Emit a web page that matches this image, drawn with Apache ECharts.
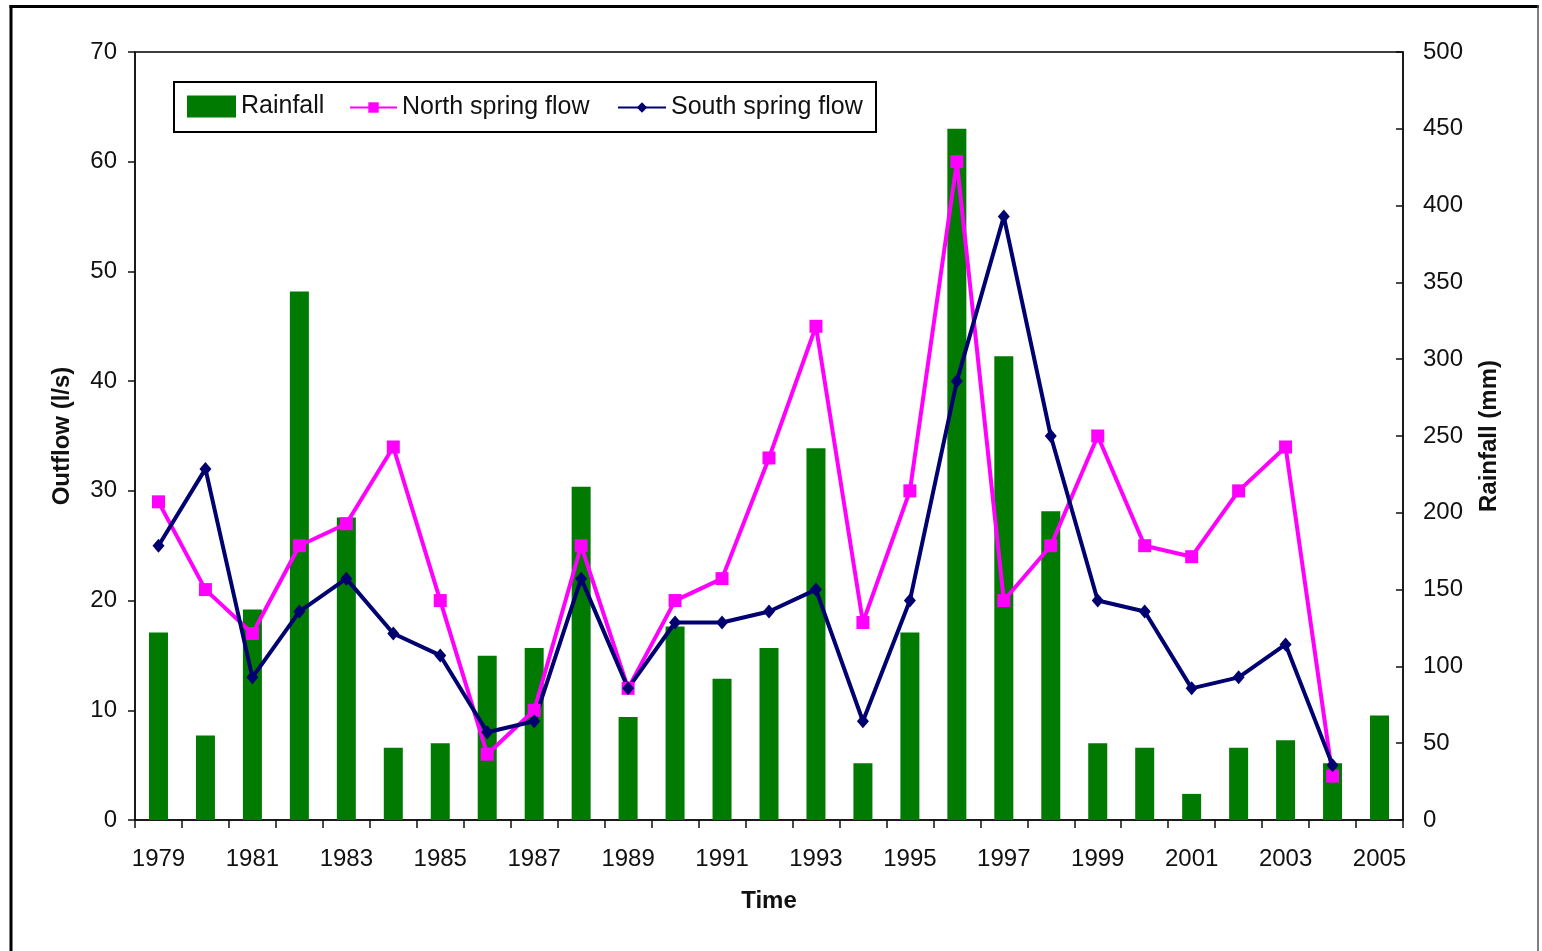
<!DOCTYPE html>
<html>
<head>
<meta charset="utf-8">
<script src="https://cdn.jsdelivr.net/npm/echarts@6/dist/echarts.min.js"></script>
<style>
html,body{margin:0;padding:0;background:#fff;}
#chart{width:1542px;height:951px;}
</style>
</head>
<body>
<div id="chart"></div>
<script>
const years = ['1979','1980','1981','1982','1983','1984','1985','1986','1987','1988','1989','1990','1991','1992','1993','1994','1995','1996','1997','1998','1999','2000','2001','2002','2003','2004','2005'];
const rainfall = [122, 55, 137, 344, 197, 47, 50, 107, 112, 217, 67, 126, 92, 112, 242, 37, 122, 450, 302, 201, 50, 47, 17, 47, 52, 37, 68];
const northFlow = [29, 21, 17, 25, 27, 34, 20, 6, 10, 25, 12, 20, 22, 33, 45, 18, 30, 60, 20, 25, 35, 25, 24, 30, 34, 4, null];
const southFlow = [25, 32, 13, 19, 22, 17, 15, 8, 9, 22, 12, 18, 18, 19, 21, 9, 20, 40, 55, 35, 20, 19, 12, 13, 16, 5, null];
const outflowTicks = [0, 10, 20, 30, 40, 50, 60, 70];
const rainfallTicks = [0, 50, 100, 150, 200, 250, 300, 350, 400, 450, 500];

const FONT = 'Liberation Sans, Arial, sans-serif';
const chart = echarts.init(document.getElementById('chart'), null, {renderer: 'canvas'});

const legendText = {fontFamily: FONT, fontSize: 25, color: '#111'};

chart.setOption({
  backgroundColor: '#fff',
  animation: false,
  graphic: [
    {type: 'line', shape: {x1: 9.5, y1: 6.5, x2: 1539, y2: 6.5}, style: {stroke: '#000', lineWidth: 3}},
    {type: 'line', shape: {x1: 11, y1: 5, x2: 11, y2: 951}, style: {stroke: '#000', lineWidth: 3}},
    {type: 'line', shape: {x1: 1538, y1: 5, x2: 1538, y2: 951}, style: {stroke: '#555', lineWidth: 1.5}},
    {type: 'rect', z: 5, shape: {x: 174, y: 82, width: 702, height: 50}, style: {fill: '#fff', stroke: '#000', lineWidth: 2}}
  ],
  legend: [
    {data: [{name: 'Rainfall', icon: 'rect'}], left: 187, top: 94, padding: 0, itemWidth: 49, itemHeight: 22, itemGap: 0, textStyle: legendText, z: 10},
    {data: ['North spring flow'], left: 349, top: 95, padding: 0, itemWidth: 47, itemHeight: 13, textStyle: legendText, z: 10},
    {data: ['South spring flow'], left: 617, top: 95, padding: 0, itemWidth: 48, itemHeight: 13, textStyle: legendText, z: 10}
  ],
  grid: {left: 135, right: 139, top: 52, bottom: 131, show: true, borderColor: '#000', borderWidth: 1.5, backgroundColor: '#fff'},
  xAxis: {
    type: 'category',
    data: years,
    boundaryGap: true,
    name: 'Time',
    nameLocation: 'middle',
    nameGap: 69,
    nameTextStyle: {fontFamily: FONT, fontSize: 24, fontWeight: 'bold', color: '#111'},
    axisLine: {lineStyle: {color: '#111', width: 1.5}},
    axisTick: {show: true, interval: 0, length: 8, lineStyle: {color: '#111', width: 1.5}},
    axisLabel: {interval: 1, margin: 27, fontFamily: FONT, fontSize: 24, color: '#111'},
    splitLine: {show: false}
  },
  yAxis: [
    {
      type: 'value',
      min: outflowTicks[0],
      max: outflowTicks[outflowTicks.length - 1],
      interval: outflowTicks[1] - outflowTicks[0],
      name: 'Outflow (l/s)',
      nameLocation: 'middle',
      nameGap: 61,
      nameTextStyle: {fontFamily: FONT, fontSize: 24, fontWeight: 'bold', color: '#111'},
      axisLine: {show: true, lineStyle: {color: '#111', width: 1.5}},
      axisTick: {show: true, length: 7, lineStyle: {color: '#111', width: 1.5}},
      axisLabel: {margin: 18, fontFamily: FONT, fontSize: 24, color: '#111'},
      splitLine: {show: false}
    },
    {
      type: 'value',
      position: 'right',
      min: rainfallTicks[0],
      max: rainfallTicks[rainfallTicks.length - 1],
      interval: rainfallTicks[1] - rainfallTicks[0],
      name: 'Rainfall (mm)',
      nameLocation: 'middle',
      nameGap: 74,
      nameRotate: 90,
      nameTextStyle: {fontFamily: FONT, fontSize: 24, fontWeight: 'bold', color: '#111'},
      axisLine: {show: true, lineStyle: {color: '#111', width: 1.5}},
      axisTick: {show: true, inside: true, length: 7, lineStyle: {color: '#111', width: 1.5}},
      axisLabel: {margin: 20, fontFamily: FONT, fontSize: 24, color: '#111'},
      splitLine: {show: false}
    }
  ],
  series: [
    {
      name: 'Rainfall',
      type: 'bar',
      yAxisIndex: 1,
      data: rainfall,
      barWidth: 19,
      itemStyle: {color: '#007a00'}
    },
    {
      name: 'North spring flow',
      type: 'line',
      yAxisIndex: 0,
      data: northFlow,
      symbol: 'rect',
      symbolSize: 13,
      lineStyle: {color: '#ff00ff', width: 4},
      itemStyle: {color: '#ff00ff'},
      connectNulls: false
    },
    {
      name: 'South spring flow',
      type: 'line',
      yAxisIndex: 0,
      data: southFlow,
      symbol: 'diamond',
      symbolSize: [12, 14],
      lineStyle: {color: '#000070', width: 4},
      itemStyle: {color: '#000070'},
      connectNulls: false
    }
  ]
});
</script>
</body>
</html>
